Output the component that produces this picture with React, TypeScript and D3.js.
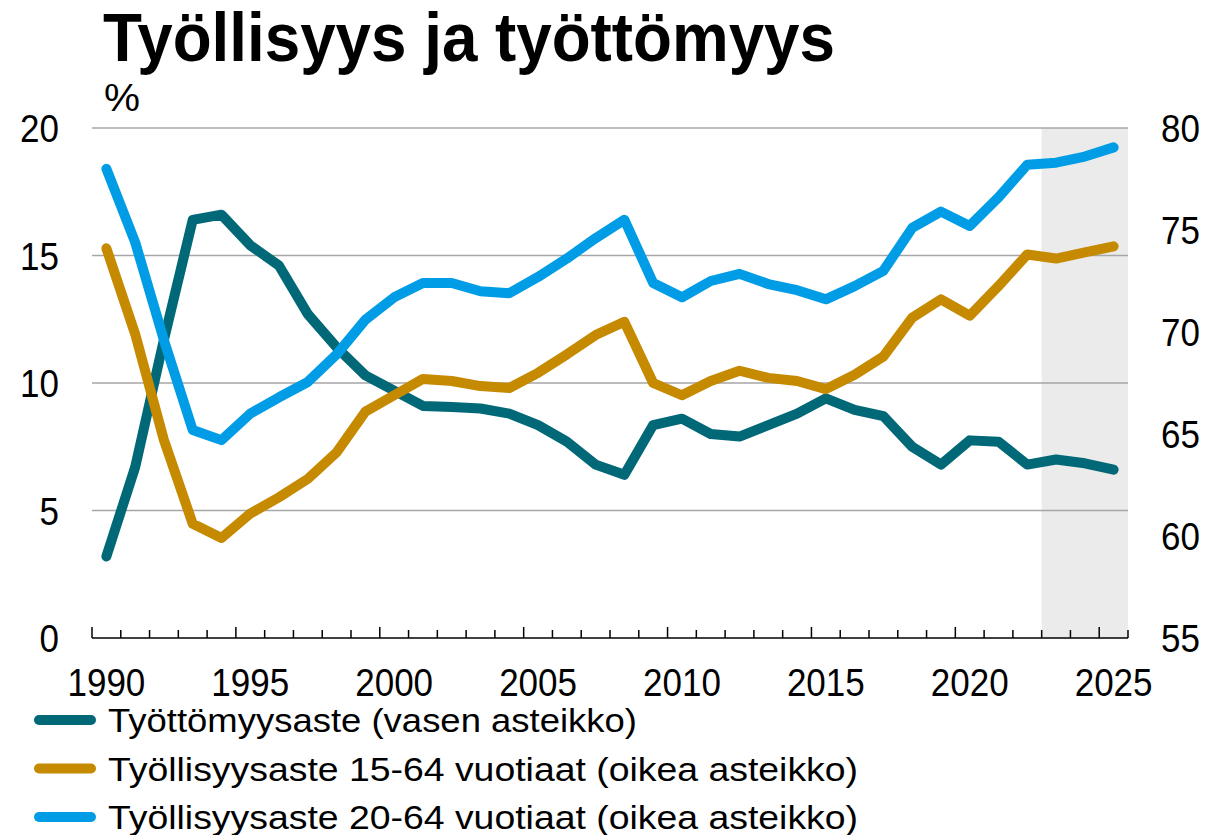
import React from "react";
import * as d3 from "d3";

const years = d3.range(1990, 2026);
const unemployment = [3.2, 6.7, 11.7, 16.4, 16.6, 15.4, 14.6, 12.7, 11.4, 10.3, 9.7, 9.1, 9.06, 9.0, 8.8, 8.35, 7.7, 6.8, 6.4, 8.35, 8.6, 8.0, 7.9, 8.35, 8.8, 9.4, 8.95, 8.7, 7.5, 6.8, 7.75, 7.7, 6.8, 7.0, 6.85, 6.6];
const emp1564 = [74.1, 69.9, 64.7, 60.6, 59.9, 61.1, 61.9, 62.8, 64.1, 66.1, 66.9, 67.7, 67.6, 67.35, 67.25, 68.0, 68.9, 69.85, 70.5, 67.5, 66.9, 67.6, 68.1, 67.75, 67.6, 67.2, 67.9, 68.8, 70.7, 71.6, 70.8, 72.25, 73.8, 73.6, 73.9, 74.2];
const emp2064 = [78.0, 74.4, 69.6, 65.2, 64.7, 66.0, 66.8, 67.55, 68.9, 70.6, 71.7, 72.4, 72.4, 72.0, 71.9, 72.7, 73.6, 74.6, 75.5, 72.4, 71.7, 72.5, 72.85, 72.35, 72.05, 71.6, 72.25, 73.0, 75.1, 75.9, 75.2, 76.6, 78.2, 78.3, 78.6, 79.05];
const leftTicks = [0, 5, 10, 15, 20];
const rightTicks = [55, 60, 65, 70, 75, 80];
const yearLabels = [1990, 1995, 2000, 2005, 2010, 2015, 2020, 2025];
const forecastStart = 2023;
const title = "Työllisyys ja työttömyys";
const legendLabels = [
  "Työttömyysaste (vasen asteikko)",
  "Työllisyysaste 15-64 vuotiaat (oikea asteikko)",
  "Työllisyysaste 20-64 vuotiaat (oikea asteikko)",
];

const COLORS = ["#006876", "#c68a00", "#009de6"];
const FONT = "'Liberation Sans', Arial, sans-serif";

function Num({ x, y, anchor, children }: { x: number; y: number; anchor: string; children: any }) {
  const s = String(children);
  const len = s.length * 0.556 * 35;
  return (
    <text x={x} y={y} textAnchor={anchor} fontSize={39} fill="#000" textLength={len} lengthAdjust="spacingAndGlyphs">{s}</text>
  );
}

export default function App() {
  if (typeof document !== "undefined") document.body.style.margin = "0";
  const W = 1225, H = 835;
  const x0 = 92, x1 = 1128, yTop = 128, yBot = 638;
  const x = d3.scaleBand<number>().domain(years).range([x0, x1]).padding(0);
  const yL = d3.scaleLinear().domain([0, 20]).range([yBot, yTop]);
  const yR = d3.scaleLinear().domain([55, 80]).range([yBot, yTop]);
  const cx = (yr: number) => (x(yr) as number) + x.bandwidth() / 2;

  const lineL = d3.line<number>().x((_, i) => cx(years[i])).y((d) => yL(d));
  const lineR = d3.line<number>().x((_, i) => cx(years[i])).y((d) => yR(d));

  const series = [
    { d: lineL(unemployment), c: COLORS[0] },
    { d: lineR(emp1564), c: COLORS[1] },
    { d: lineR(emp2064), c: COLORS[2] },
  ];

  const boundaries = [...years.map((yr) => ({ pos: x(yr) as number, major: yr % 5 === 0 })), { pos: x1, major: false }];

  return (
    <svg width={W} height={H} style={{ position: "absolute", left: 0, top: 0, background: "#fff" }} fontFamily={FONT}>
      <text x={103} y={61} fontSize={68} fontWeight="bold" textLength={732} lengthAdjust="spacingAndGlyphs" fill="#000">{title}</text>
      <text x={104} y={111} fontSize={38} fill="#000" textLength={36} lengthAdjust="spacingAndGlyphs">%</text>

      <rect x={x(forecastStart)} y={yTop} width={x1 - (x(forecastStart) as number)} height={yBot - yTop} fill="#ebebeb" />

      {leftTicks.filter((t) => t > 0).map((t) => (
        <line key={t} x1={x0} x2={x1} y1={yL(t)} y2={yL(t)} stroke="#a6a6a6" strokeWidth={1.5} />
      ))}

      {leftTicks.map((t) => (
        <Num key={t} x={59} y={yL(t) + 14} anchor="end">{t}</Num>
      ))}
      {rightTicks.map((t) => (
        <Num key={t} x={1161} y={yR(t) + 14} anchor="start">{t}</Num>
      ))}

      {series.map((s, i) => (
        <path key={i} d={s.d || ""} fill="none" stroke={s.c} strokeWidth={10} strokeLinejoin="round" strokeLinecap="round" />
      ))}

      <line x1={x0} x2={x1} y1={yBot} y2={yBot} stroke="#000" strokeWidth={1.5} />
      {boundaries.map((b, i) => (
        <line key={i} x1={b.pos} x2={b.pos} y1={yBot} y2={yBot - (b.major ? 11 : 8)} stroke="#000" strokeWidth={1.5} />
      ))}
      {yearLabels.map((yr) => (
        <Num key={yr} x={cx(yr)} y={696} anchor="middle">{yr}</Num>
      ))}

      {legendLabels.map((l, i) => {
        const yy = 720 + i * 48.5;
        const lens = [529, 750, 750];
        return (
          <g key={i}>
            <line x1={39} x2={91} y1={yy} y2={yy} stroke={COLORS[i]} strokeWidth={10} strokeLinecap="round" />
            <text x={108} y={yy + 12} fontSize={34} fill="#000" textLength={lens[i]} lengthAdjust="spacingAndGlyphs">{l}</text>
          </g>
        );
      })}
    </svg>
  );
}
